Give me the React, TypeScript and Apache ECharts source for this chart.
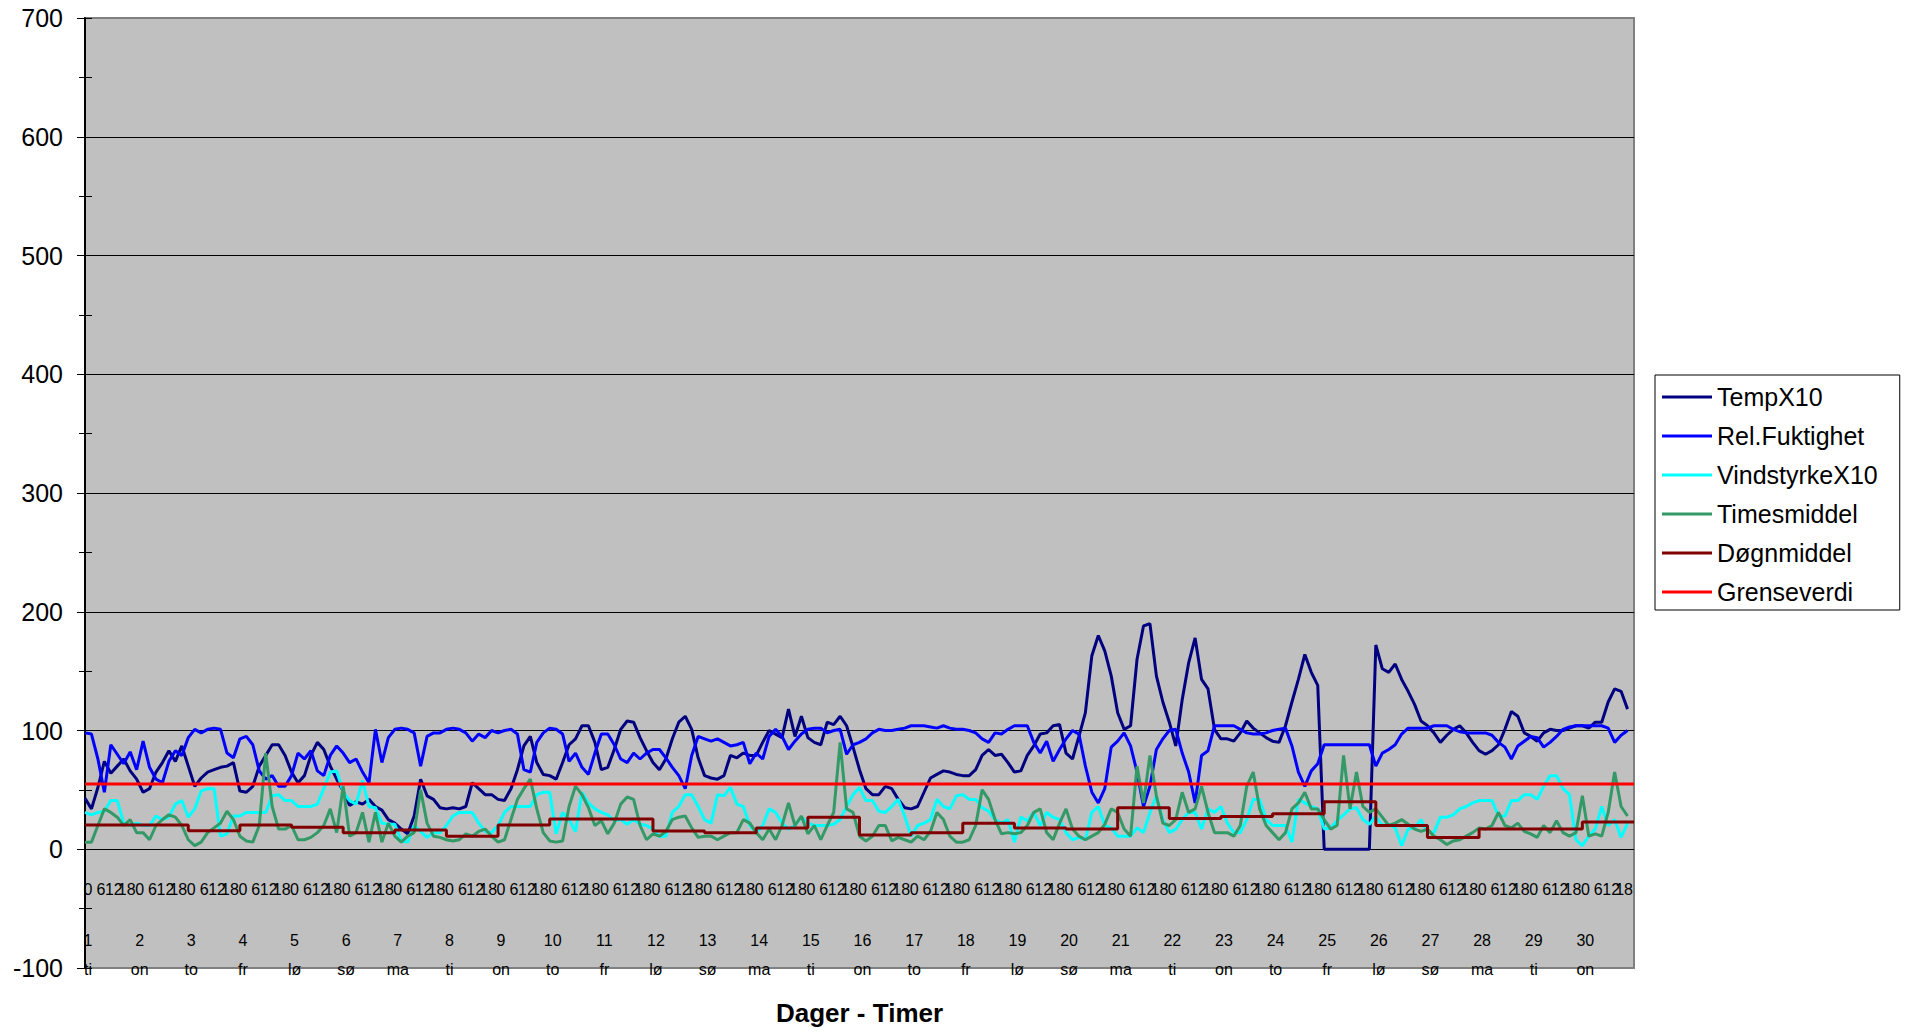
import { useEffect, useRef } from "react";
import * as echarts from "echarts";

// Hourly measurements are stored as 3-hour samples, one row (8 values) per day.
const SAMPLE_HOURS = 3;
const HOURS_IN_MONTH = 720;

const hourLabels = ["0", "6", "12", "18"];
const dayLabels = [
  "1", "2", "3", "4", "5", "6", "7", "8", "9", "10",
  "11", "12", "13", "14", "15", "16", "17", "18", "19", "20",
  "21", "22", "23", "24", "25", "26", "27", "28", "29", "30",
];
const weekdayLabels = [
  "ti", "on", "to", "fr", "lø", "sø", "ma", "ti", "on", "to",
  "fr", "lø", "sø", "ma", "ti", "on", "to", "fr", "lø", "sø",
  "ma", "ti", "on", "to", "fr", "lø", "sø", "ma", "ti", "on",
];

const tempX10 = [
  43, 34, 52, 74, 64, 70, 76, 66,
  59, 48, 51, 65, 73, 83, 74, 87,
  70, 53, 60, 65, 67, 69, 70, 73,
  49, 48, 53, 70, 79, 88, 88, 79,
  65, 56, 62, 79, 90, 84, 70, 59,
  49, 37, 40, 38, 42, 36, 33, 25,
  22, 17, 13, 28, 59, 45, 42, 35,
  34, 35, 34, 36, 56, 51, 46, 46,
  42, 41, 51, 67, 87, 95, 73, 63,
  62, 59, 73, 88, 93, 104, 104, 90,
  67, 69, 84, 101, 108, 107, 94, 83,
  73, 67, 76, 93, 107, 112, 101, 77,
  62, 60, 59, 62, 79, 77, 81, 79,
  79, 90, 100, 97, 94, 118, 95, 112,
  94, 90, 88, 107, 105, 112, 104, 86,
  67, 51, 46, 46, 53, 51, 42, 35,
  34, 36, 48, 60, 63, 66, 65, 63,
  62, 62, 67, 79, 84, 79, 80, 73,
  65, 66, 79, 87, 97, 98, 104, 105,
  81, 76, 95, 115, 163, 180, 167, 146,
  115, 101, 104, 160, 188, 190, 146, 124,
  107, 87, 126, 157, 178, 143, 135, 101,
  93, 93, 91, 98, 108, 102, 98, 94,
  91, 90, 104, 124, 143, 164, 149, 138,
  0, 0, 0, 0, 0, 0, 0, 0,
  172, 152, 149, 156, 143, 133, 122, 108,
  104, 98, 90, 96, 101, 104, 98, 90,
  83, 80, 83, 88, 101, 116, 112, 98,
  95, 91, 98, 101, 100, 100, 102, 104,
  104, 102, 107, 107, 124, 135, 133, 118,
];

const relFuktighet = [
  98, 97, 76, 48, 88, 80, 72, 82,
  67, 91, 69, 59, 56, 74, 83, 79,
  94, 101, 98, 101, 102, 101, 81, 77,
  93, 95, 88, 66, 59, 62, 53, 53,
  62, 81, 76, 83, 66, 62, 79, 87,
  81, 73, 76, 65, 56, 101, 73, 94,
  101, 102, 101, 98, 70, 95, 98, 98,
  101, 102, 101, 98, 91, 97, 94, 100,
  98, 100, 101, 97, 67, 65, 90, 98,
  102, 101, 97, 74, 81, 69, 63, 81,
  97, 97, 88, 76, 73, 81, 76, 81,
  84, 84, 77, 69, 62, 51, 79, 95,
  93, 91, 93, 90, 87, 88, 90, 72,
  81, 76, 95, 101, 95, 84, 91, 97,
  101, 102, 102, 98, 100, 101, 80, 88,
  90, 93, 98, 101, 100, 100, 101, 102,
  104, 104, 104, 103, 102, 104, 102, 101,
  101, 100, 98, 93, 90, 98, 97, 101,
  104, 104, 104, 90, 81, 91, 74, 84,
  93, 100, 97, 70, 48, 39, 51, 86,
  91, 98, 87, 65, 36, 53, 84, 93,
  100, 101, 81, 65, 39, 79, 83, 104,
  104, 104, 104, 101, 98, 97, 97, 98,
  100, 101, 102, 87, 65, 53, 66, 72,
  88, 88, 88, 88, 88, 88, 88, 88,
  70, 81, 84, 88, 97, 102, 102, 102,
  102, 104, 104, 104, 101, 99, 98, 98,
  98, 98, 96, 90, 86, 76, 87, 91,
  95, 94, 86, 90, 95, 101, 103, 104,
  104, 104, 104, 104, 102, 90, 96, 100,
];

const vindstyrkeX10 = [
  31, 29, 31, 32, 41, 41, 22, 20,
  22, 20, 20, 28, 25, 27, 38, 41,
  27, 34, 49, 51, 51, 11, 13, 28,
  28, 31, 31, 31, 31, 45, 46, 41,
  41, 36, 36, 36, 38, 51, 65, 66,
  48, 41, 38, 58, 36, 35, 22, 21,
  21, 7, 6, 20, 15, 10, 14, 14,
  20, 28, 31, 31, 31, 22, 15, 14,
  20, 31, 36, 36, 36, 36, 46, 48,
  48, 13, 31, 25, 15, 48, 39, 34,
  31, 29, 24, 25, 21, 25, 21, 20,
  17, 11, 11, 31, 36, 46, 46, 36,
  25, 22, 46, 45, 52, 38, 36, 20,
  14, 20, 34, 31, 22, 17, 20, 27,
  22, 20, 20, 20, 21, 25, 36, 46,
  52, 41, 41, 32, 31, 36, 42, 28,
  11, 20, 22, 25, 42, 36, 34, 45,
  46, 42, 42, 35, 32, 25, 22, 25,
  6, 27, 24, 31, 20, 31, 27, 25,
  14, 8, 10, 8, 31, 36, 20, 18,
  11, 11, 11, 18, 14, 31, 45, 25,
  14, 17, 25, 31, 31, 17, 34, 31,
  36, 22, 14, 14, 25, 42, 42, 25,
  20, 20, 20, 6, 42, 39, 36, 34,
  17, 18, 24, 29, 34, 35, 25, 21,
  28, 20, 21, 18, 3, 17, 18, 25,
  14, 14, 27, 27, 29, 34, 36, 39,
  41, 41, 41, 28, 28, 41, 41, 46,
  46, 42, 53, 62, 62, 51, 46, 8,
  3, 11, 17, 36, 20, 25, 10, 22,
];

const timesmiddel = [
  6, 6, 20, 34, 31, 27, 20, 25,
  14, 14, 8, 20, 25, 29, 27, 20,
  8, 3, 6, 14, 18, 22, 32, 25,
  11, 7, 6, 20, 81, 36, 17, 17,
  20, 8, 8, 10, 14, 20, 34, 14,
  53, 11, 14, 31, 6, 31, 6, 22,
  11, 6, 11, 14, 50, 22, 11, 10,
  8, 7, 8, 13, 11, 15, 17, 11,
  6, 8, 25, 42, 51, 59, 34, 14,
  7, 6, 7, 36, 53, 46, 35, 20,
  24, 13, 22, 38, 44, 42, 20, 8,
  13, 11, 15, 25, 27, 28, 18, 10,
  11, 11, 8, 11, 14, 14, 25, 22,
  14, 8, 17, 8, 20, 39, 20, 28,
  13, 20, 8, 20, 31, 90, 34, 31,
  11, 7, 11, 20, 20, 7, 10, 8,
  6, 11, 8, 15, 31, 25, 11, 6,
  6, 8, 20, 50, 42, 25, 13, 14,
  13, 14, 20, 31, 34, 14, 8, 22,
  34, 17, 11, 8, 11, 14, 21, 34,
  31, 17, 11, 70, 39, 79, 45, 22,
  20, 25, 48, 31, 34, 53, 31, 14,
  14, 14, 11, 20, 53, 65, 34, 20,
  14, 8, 14, 34, 39, 48, 34, 34,
  25, 17, 20, 79, 34, 65, 36, 31,
  34, 27, 20, 22, 25, 21, 17, 15,
  17, 11, 8, 4, 7, 8, 11, 14,
  18, 17, 20, 31, 20, 18, 22, 15,
  13, 10, 20, 14, 24, 14, 11, 14,
  45, 11, 13, 11, 31, 65, 36, 28,
];

// One daily mean per day, held constant over the day.
const dognmiddel = [
  20.5, 20.5, 15.5, 20.5, 18.5, 14, 16.3, 11, 20.5, 25.4,
  25.4, 15.4, 14, 18, 27, 12, 14, 22, 18, 17,
  35, 26, 27.5, 30, 40, 20, 10, 17, 17, 23,
];

const grenseverdi = 55;

const FONT = "'Liberation Sans', Arial, Helvetica, sans-serif";

const toPoints = (values: number[]) =>
  values.map((v, i) => [i * SAMPLE_HOURS, v]);

const dailyPoints = [
  ...dognmiddel.map((v, i) => [i * 24, v]),
  [HOURS_IN_MONTH, dognmiddel[dognmiddel.length - 1]],
];

const limitPoints = [
  [0, grenseverdi],
  [HOURS_IN_MONTH, grenseverdi],
];

const seriesNames = [
  "TempX10",
  "Rel.Fuktighet",
  "VindstyrkeX10",
  "Timesmiddel",
  "Døgnmiddel",
  "Grenseverdi",
];

const lineSeries = (
  name: string,
  data: number[][],
  color: string,
  width: number,
  extra: Record<string, unknown> = {}
) => ({
  name,
  type: "line",
  data,
  symbol: "none",
  showSymbol: false,
  color,
  itemStyle: { color },
  lineStyle: { color, width },
  emphasis: { disabled: true },
  animation: false,
  ...extra,
});

// Hour ticks every 6 h; each midnight tick also carries the day number and weekday.
const hourAxisLabel = (value: number) => {
  if (value >= HOURS_IN_MONTH) return "";
  const idx = Math.round(value / 6);
  const hour = hourLabels[idx % 4];
  if (idx % 4 !== 0) return `{h|${hour}}`;
  const day = idx / 4;
  return `{h|${hour}}\n{s| }\n{d|${dayLabels[day]}}\n{w|${weekdayLabels[day]}}`;
};

const option = {
  animation: false,
  backgroundColor: "#ffffff",
  textStyle: { fontFamily: FONT },
  grid: {
    left: 85,
    top: 18,
    width: 1549,
    height: 950,
    show: true,
    backgroundColor: "#C0C0C0",
    borderColor: "#808080",
    borderWidth: 2,
    containLabel: false,
    outerBoundsMode: "none",
  },
  legend: {
    orient: "vertical",
    left: 1655,
    top: 375,
    icon: "rect",
    itemWidth: 50,
    itemHeight: 3,
    itemGap: 11,
    padding: [8, 22, 4, 7],
    backgroundColor: "#ffffff",
    borderColor: "#000000",
    borderWidth: 1,
    borderRadius: 0,
    selectedMode: false,
    textStyle: { fontSize: 25, lineHeight: 28, color: "#000", fontFamily: FONT },
    data: seriesNames,
  },
  xAxis: {
    type: "value",
    min: 0,
    max: HOURS_IN_MONTH,
    interval: 6,
    position: "bottom",
    axisLine: { show: false, onZero: false },
    axisTick: { show: false },
    splitLine: { show: false },
    axisLabel: {
      margin: -89,
      padding: [0, 0, 0, 6],
      showMinLabel: true,
      showMaxLabel: false,
      hideOverlap: false,
      color: "#000",
      fontFamily: FONT,
      fontSize: 16,
      verticalAlign: "top",
      formatter: hourAxisLabel,
      rich: {
        h: { fontSize: 16, lineHeight: 20, color: "#000", fontFamily: FONT },
        s: { fontSize: 16, lineHeight: 31, color: "#000", fontFamily: FONT },
        d: { fontSize: 16, lineHeight: 20, color: "#000", fontFamily: FONT },
        w: { fontSize: 16, lineHeight: 39, color: "#000", fontFamily: FONT },
      },
    },
    name: "Dager - Timer",
    nameLocation: "middle",
    nameGap: 32,
    nameMoveOverlap: false,
    nameTextStyle: { fontSize: 26, fontWeight: "bold", color: "#000", fontFamily: FONT },
  },
  yAxis: [
    {
      type: "value",
      min: -100,
      max: 700,
      interval: 100,
      position: "left",
      axisLine: { show: true, onZero: false, lineStyle: { color: "#000", width: 2 } },
      axisTick: { show: true, inside: false, length: 8, lineStyle: { color: "#000", width: 1 } },
      minorTick: { show: true, splitNumber: 2, length: 6, lineStyle: { color: "#000", width: 1 } },
      axisLabel: { fontSize: 25, color: "#000", margin: 22, fontFamily: FONT },
      splitLine: {
        show: true,
        showMinLine: false,
        showMaxLine: false,
        lineStyle: { color: "#000", width: 1 },
      },
    },
    {
      type: "value",
      min: -100,
      max: 700,
      interval: 100,
      position: "left",
      axisLine: { show: false, onZero: false },
      axisTick: { show: true, inside: true, length: 7, lineStyle: { color: "#000", width: 1 } },
      minorTick: { show: true, splitNumber: 2, length: 7, lineStyle: { color: "#000", width: 1 } },
      axisLabel: { show: false },
      splitLine: { show: false },
    },
  ],
  series: [
    lineSeries("TempX10", toPoints(tempX10), "#000080", 3),
    lineSeries("Rel.Fuktighet", toPoints(relFuktighet), "#0000FF", 3),
    lineSeries("VindstyrkeX10", toPoints(vindstyrkeX10), "#00FFFF", 3),
    lineSeries("Timesmiddel", toPoints(timesmiddel), "#339966", 3),
    lineSeries("Døgnmiddel", dailyPoints, "#800000", 3, { step: "end" }),
    lineSeries("Grenseverdi", limitPoints, "#FF0000", 3),
  ],
};

export default function App() {
  const ref = useRef<HTMLDivElement>(null);

  useEffect(() => {
    if (!ref.current) return;
    const chart = echarts.init(ref.current, null, { renderer: "svg" });
    chart.setOption(option as any);
    return () => chart.dispose();
  }, []);

  return (
    <div
      ref={ref}
      style={{
        position: "fixed",
        left: 0,
        top: 0,
        width: 1912,
        height: 1033,
        background: "#ffffff",
      }}
    />
  );
}
